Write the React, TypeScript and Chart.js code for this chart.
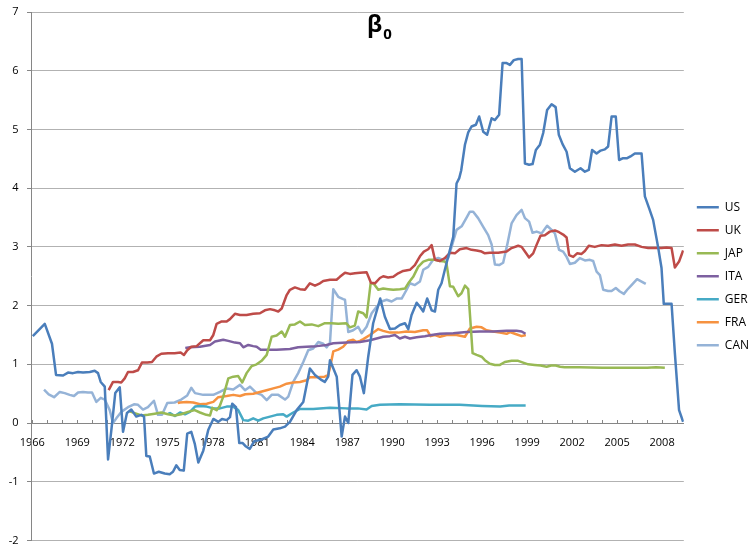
import React, { useEffect, useRef } from "react";
import { Chart, registerables } from "chart.js";

Chart.register(...registerables);

// [year, value] observations per country
const US: [number, number][] = [
  [1966.03,1.48],[1966.83,1.69],[1967.31,1.35],[1967.58,0.82],[1968.05,0.81],[1968.38,0.86],[1968.71,0.85],[1969.05,0.87],[1969.38,0.86],[1969.83,0.87],[1970.16,0.89],[1970.38,0.85],[1970.56,0.7],[1970.83,0.62],[1971.05,-0.62],[1971.27,-0.12],[1971.53,0.51],[1971.83,0.61],[1972.05,-0.15],[1972.31,0.17],[1972.6,0.23],[1972.93,0.11],[1973.27,0.14],[1973.45,0.11],[1973.6,-0.56],[1973.83,-0.57],[1974.11,-0.86],[1974.43,-0.83],[1974.83,-0.86],[1975.16,-0.87],[1975.38,-0.83],[1975.6,-0.72],[1975.83,-0.8],[1976.1,-0.81],[1976.33,-0.18],[1976.6,-0.15],[1976.83,-0.35],[1977.07,-0.67],[1977.4,-0.47],[1977.73,-0.12],[1978.07,0.07],[1978.4,0.02],[1978.65,0.07],[1978.96,0.05],[1979.18,0.1],[1979.33,0.33],[1979.58,0.27],[1979.8,-0.34],[1980.03,-0.34],[1980.25,-0.4],[1980.5,-0.44],[1980.8,-0.31],[1981.29,-0.28],[1981.73,-0.23],[1982.07,-0.11],[1982.5,-0.09],[1982.85,-0.06],[1983.18,0.02],[1983.63,0.22],[1984.07,0.36],[1984.51,0.93],[1984.85,0.82],[1985.3,0.73],[1985.5,0.7],[1985.73,0.79],[1985.85,1.07],[1986.3,0.79],[1986.63,-0.23],[1986.85,0.11],[1987.07,0.0],[1987.35,0.82],[1987.63,0.9],[1987.85,0.79],[1988.11,0.51],[1988.4,1.13],[1988.73,1.7],[1989.2,2.12],[1989.51,1.81],[1989.85,1.6],[1990.18,1.61],[1990.51,1.67],[1990.85,1.7],[1991.07,1.6],[1991.29,1.84],[1991.63,2.05],[1991.85,1.98],[1992.07,1.9],[1992.33,2.12],[1992.63,1.92],[1992.85,1.9],[1993.07,2.27],[1993.29,2.38],[1993.51,2.61],[1993.85,2.95],[1994.07,3.17],[1994.29,4.08],[1994.47,4.17],[1994.6,4.3],[1994.85,4.74],[1995.07,4.95],[1995.29,5.05],[1995.58,5.08],[1995.8,5.22],[1996.07,4.96],[1996.33,4.91],[1996.63,5.19],[1996.85,5.16],[1997.13,5.25],[1997.36,6.13],[1997.63,6.13],[1997.85,6.1],[1998.11,6.18],[1998.4,6.2],[1998.63,6.2],[1998.85,4.42],[1999.13,4.4],[1999.36,4.41],[1999.58,4.65],[1999.85,4.74],[2000.07,4.94],[2000.33,5.33],[2000.63,5.43],[2000.9,5.38],[2001.11,4.91],[2001.36,4.75],[2001.63,4.62],[2001.85,4.34],[2002.18,4.28],[2002.56,4.34],[2002.85,4.28],[2003.11,4.31],[2003.33,4.65],[2003.63,4.59],[2003.9,4.64],[2004.18,4.66],[2004.4,4.71],[2004.63,5.22],[2004.91,5.22],[2005.13,4.48],[2005.4,4.51],[2005.67,4.51],[2005.89,4.54],[2006.18,4.59],[2006.63,4.59],[2006.85,3.86],[2007.13,3.66],[2007.4,3.46],[2007.73,3.0],[2007.96,2.64],[2008.11,2.03],[2008.63,2.03],[2008.85,1.19],[2009.13,0.22],[2009.4,0.02]
];

const UK: [number, number][] = [
  [1971.09,0.56],[1971.38,0.7],[1971.71,0.7],[1971.93,0.69],[1972.16,0.76],[1972.38,0.87],[1972.71,0.87],[1973.05,0.9],[1973.31,1.03],[1973.67,1.03],[1973.98,1.04],[1974.27,1.13],[1974.6,1.18],[1975.05,1.19],[1975.49,1.19],[1975.89,1.2],[1976.11,1.16],[1976.33,1.24],[1976.6,1.3],[1976.96,1.31],[1977.4,1.41],[1977.85,1.41],[1978.07,1.5],[1978.29,1.69],[1978.63,1.73],[1978.96,1.73],[1979.18,1.77],[1979.51,1.86],[1979.85,1.84],[1980.29,1.84],[1980.73,1.86],[1981.18,1.87],[1981.51,1.92],[1981.85,1.94],[1982.18,1.92],[1982.4,1.9],[1982.63,1.95],[1982.96,2.18],[1983.18,2.27],[1983.51,2.31],[1983.85,2.28],[1984.18,2.27],[1984.51,2.38],[1984.85,2.34],[1985.18,2.38],[1985.4,2.42],[1985.85,2.44],[1986.29,2.44],[1986.51,2.49],[1986.85,2.56],[1987.18,2.54],[1987.51,2.55],[1987.85,2.56],[1988.29,2.57],[1988.58,2.39],[1988.85,2.38],[1989.18,2.47],[1989.4,2.5],[1989.73,2.48],[1990.07,2.49],[1990.4,2.55],[1990.73,2.59],[1991.18,2.61],[1991.51,2.69],[1991.85,2.84],[1992.11,2.92],[1992.4,2.96],[1992.63,3.03],[1992.85,2.78],[1993.18,2.76],[1993.51,2.81],[1993.85,2.9],[1994.18,2.89],[1994.51,2.96],[1994.96,2.98],[1995.29,2.95],[1995.63,2.94],[1995.96,2.92],[1996.18,2.89],[1996.51,2.9],[1997.07,2.9],[1997.63,2.92],[1997.96,2.98],[1998.4,3.02],[1998.63,3.0],[1998.85,2.92],[1999.13,2.82],[1999.4,2.89],[1999.62,3.03],[1999.89,3.19],[2000.18,3.2],[2000.51,3.26],[2000.85,3.28],[2001.13,3.25],[2001.4,3.21],[2001.63,3.16],[2001.8,2.86],[2002.07,2.83],[2002.33,2.89],[2002.63,2.88],[2002.85,2.93],[2003.11,3.02],[2003.51,3.0],[2003.96,3.03],[2004.4,3.02],[2004.85,3.04],[2005.29,3.02],[2005.73,3.04],[2006.18,3.04],[2006.63,3.0],[2007.07,2.98],[2007.51,2.98],[2007.96,2.98],[2008.29,2.99],[2008.63,2.98],[2008.85,2.65],[2009.13,2.75],[2009.4,2.94]
];

const JAP: [number, number][] = [
  [1972.49,0.2],[1972.83,0.17],[1973.27,0.13],[1973.71,0.14],[1974.16,0.16],[1974.6,0.18],[1975.05,0.15],[1975.49,0.13],[1975.93,0.15],[1976.38,0.19],[1976.83,0.22],[1977.18,0.18],[1977.6,0.14],[1977.85,0.13],[1978.0,0.26],[1978.29,0.22],[1978.5,0.29],[1978.73,0.45],[1979.07,0.76],[1979.4,0.79],[1979.73,0.8],[1980.0,0.69],[1980.29,0.85],[1980.63,0.97],[1980.96,1.0],[1981.29,1.06],[1981.63,1.16],[1981.96,1.47],[1982.29,1.49],[1982.63,1.56],[1982.85,1.47],[1983.18,1.67],[1983.51,1.68],[1983.85,1.73],[1984.18,1.67],[1984.63,1.68],[1985.07,1.65],[1985.51,1.7],[1985.96,1.7],[1986.4,1.69],[1986.94,1.7],[1987.18,1.63],[1987.51,1.66],[1987.73,1.9],[1988.07,1.87],[1988.29,1.8],[1988.56,2.38],[1988.78,2.37],[1989.07,2.27],[1989.4,2.29],[1989.73,2.28],[1990.07,2.27],[1990.51,2.28],[1990.85,2.29],[1991.07,2.38],[1991.4,2.49],[1991.73,2.66],[1992.07,2.75],[1992.4,2.78],[1992.85,2.78],[1993.18,2.76],[1993.51,2.75],[1993.62,2.72],[1993.85,2.33],[1994.07,2.32],[1994.4,2.16],[1994.62,2.21],[1994.85,2.34],[1995.07,2.28],[1995.36,1.19],[1995.63,1.16],[1995.96,1.13],[1996.18,1.07],[1996.51,1.01],[1996.85,0.99],[1997.18,0.99],[1997.51,1.04],[1997.96,1.06],[1998.4,1.06],[1998.73,1.03],[1999.07,1.0],[1999.5,0.99],[1999.9,0.98],[2000.3,0.96],[2000.6,0.98],[2000.9,0.98],[2001.2,0.96],[2001.5,0.95],[2002.5,0.95],[2004.0,0.94],[2006.0,0.94],[2007.0,0.94],[2007.6,0.95],[2008.18,0.94]
];

const ITA: [number, number][] = [
  [1976.2,1.28],[1976.51,1.29],[1977.18,1.3],[1977.85,1.33],[1978.18,1.39],[1978.73,1.42],[1979.07,1.4],[1979.51,1.37],[1979.85,1.36],[1980.07,1.29],[1980.4,1.33],[1980.73,1.31],[1980.96,1.3],[1981.23,1.25],[1981.62,1.25],[1982.29,1.25],[1983.18,1.26],[1983.73,1.29],[1984.29,1.3],[1984.96,1.31],[1985.62,1.33],[1986.07,1.36],[1986.96,1.37],[1987.85,1.38],[1988.51,1.41],[1988.96,1.44],[1989.4,1.47],[1989.85,1.48],[1990.18,1.5],[1990.51,1.44],[1990.85,1.47],[1991.18,1.44],[1991.63,1.46],[1992.18,1.48],[1992.63,1.5],[1993.18,1.52],[1994.07,1.53],[1994.96,1.55],[1995.85,1.56],[1996.73,1.56],[1997.63,1.57],[1998.29,1.57],[1998.63,1.56],[1998.89,1.52]
];

const GER: [number, number][] = [
  [1975.07,0.16],[1975.18,0.17],[1975.51,0.12],[1975.85,0.18],[1976.18,0.15],[1976.51,0.19],[1976.85,0.28],[1977.18,0.29],[1977.63,0.28],[1978.07,0.25],[1978.51,0.25],[1978.96,0.28],[1979.4,0.28],[1979.73,0.22],[1980.07,0.05],[1980.4,0.04],[1980.73,0.08],[1981.07,0.04],[1981.4,0.08],[1981.85,0.11],[1982.29,0.14],[1982.73,0.15],[1982.96,0.11],[1983.4,0.18],[1983.85,0.24],[1984.73,0.24],[1985.85,0.26],[1986.96,0.25],[1987.7,0.25],[1988.29,0.23],[1988.63,0.29],[1989.18,0.31],[1990.5,0.32],[1992.5,0.31],[1994.5,0.31],[1996.0,0.29],[1997.2,0.28],[1997.8,0.3],[1998.9,0.3]
];

const FRA: [number, number][] = [
  [1975.7,0.34],[1975.85,0.35],[1976.29,0.36],[1976.73,0.35],[1977.18,0.32],[1977.63,0.33],[1978.07,0.36],[1978.4,0.44],[1978.96,0.46],[1979.4,0.48],[1979.85,0.46],[1980.2,0.49],[1980.73,0.5],[1981.18,0.53],[1981.62,0.56],[1982.07,0.59],[1982.51,0.62],[1982.96,0.67],[1983.4,0.69],[1983.85,0.7],[1984.29,0.73],[1984.51,0.78],[1984.96,0.78],[1985.5,0.79],[1985.73,0.82],[1985.9,1.0],[1986.07,1.22],[1986.4,1.25],[1986.73,1.3],[1987.07,1.4],[1987.4,1.42],[1987.62,1.38],[1987.85,1.4],[1988.07,1.43],[1988.51,1.5],[1989.07,1.6],[1989.4,1.57],[1989.85,1.54],[1990.4,1.54],[1990.96,1.56],[1991.51,1.55],[1992.07,1.58],[1992.33,1.58],[1992.56,1.48],[1992.85,1.5],[1993.18,1.47],[1993.63,1.5],[1994.29,1.5],[1994.85,1.47],[1995.18,1.61],[1995.63,1.64],[1995.96,1.63],[1996.29,1.58],[1996.73,1.56],[1997.18,1.54],[1997.63,1.52],[1997.85,1.55],[1998.18,1.52],[1998.63,1.48],[1998.91,1.5]
];

const CAN: [number, number][] = [
  [1966.78,0.57],[1967.09,0.49],[1967.45,0.44],[1967.83,0.53],[1968.16,0.51],[1968.49,0.48],[1968.78,0.46],[1969.05,0.52],[1969.38,0.53],[1969.71,0.52],[1969.98,0.52],[1970.27,0.36],[1970.56,0.43],[1970.83,0.4],[1971.16,0.22],[1971.38,0.0],[1971.6,0.08],[1971.93,0.19],[1972.38,0.27],[1972.78,0.32],[1973.05,0.31],[1973.38,0.23],[1973.71,0.27],[1974.11,0.38],[1974.38,0.14],[1974.65,0.14],[1975.0,0.34],[1975.49,0.35],[1975.93,0.4],[1976.33,0.47],[1976.6,0.6],[1976.85,0.51],[1977.4,0.48],[1978.07,0.48],[1978.51,0.53],[1978.96,0.59],[1979.4,0.57],[1979.85,0.65],[1980.18,0.56],[1980.51,0.62],[1980.96,0.51],[1981.29,0.48],[1981.63,0.39],[1981.96,0.48],[1982.4,0.48],[1982.85,0.4],[1983.07,0.45],[1983.4,0.7],[1983.73,0.85],[1984.07,1.04],[1984.4,1.24],[1984.73,1.27],[1985.07,1.38],[1985.4,1.35],[1985.63,1.29],[1985.85,1.37],[1986.07,2.28],[1986.4,2.15],[1986.73,2.11],[1986.85,2.1],[1987.07,1.55],[1987.4,1.58],[1987.73,1.64],[1987.96,1.53],[1988.29,1.64],[1988.63,1.87],[1988.96,1.98],[1989.29,2.07],[1989.63,2.1],[1989.96,2.07],[1990.29,2.12],[1990.63,2.12],[1990.96,2.27],[1991.18,2.38],[1991.51,2.35],[1991.85,2.41],[1992.07,2.61],[1992.4,2.66],[1992.73,2.78],[1993.07,2.81],[1993.4,2.78],[1993.73,2.81],[1993.96,3.0],[1994.29,3.29],[1994.63,3.35],[1994.96,3.5],[1995.18,3.6],[1995.4,3.6],[1995.73,3.49],[1996.07,3.34],[1996.4,3.2],[1996.63,3.04],[1996.85,2.7],[1997.13,2.69],[1997.4,2.73],[1997.69,3.06],[1997.96,3.4],[1998.29,3.54],[1998.63,3.63],[1998.85,3.49],[1999.13,3.43],[1999.36,3.24],[1999.63,3.26],[1999.96,3.23],[2000.33,3.36],[2000.63,3.29],[2000.85,3.23],[2001.13,2.95],[2001.4,2.92],[2001.63,2.83],[2001.85,2.71],[2002.18,2.73],[2002.51,2.81],[2002.85,2.77],[2003.18,2.78],[2003.4,2.76],[2003.63,2.58],[2003.85,2.52],[2004.07,2.27],[2004.4,2.25],[2004.63,2.25],[2004.91,2.3],[2005.18,2.24],[2005.45,2.2],[2005.67,2.27],[2005.96,2.35],[2006.33,2.45],[2006.63,2.41],[2006.91,2.37]
];

const SERIES_NAMES = ["US", "UK", "JAP", "ITA", "GER", "FRA", "CAN"];
const SERIES_DATA = [US, UK, JAP, ITA, GER, FRA, CAN];
const SERIES_COLORS = ["#4A7EBB", "#BE4B48", "#98B954", "#7D60A0", "#46AAC5", "#F69240", "#95B3D7"];

const X_LABEL_YEARS = [1966, 1969, 1972, 1975, 1978, 1981, 1984, 1987, 1990, 1993, 1996, 1999, 2002, 2005, 2008];
const X_MIN = 1965.913;
const X_MAX = 2009.447;
const Y_MIN = -2;
const Y_MAX = 7;

const TITLE_MAIN = "β";
const TITLE_SUB = "0";

const AXIS_COLOR = "#868686";
const GRID_COLOR = "#b2b2b2";
const FONT = '"Open Sans", "DejaVu Sans", sans-serif';

const titlePlugin = {
  id: "betaTitle",
  afterDraw(chart: any) {
    const ctx = chart.ctx as CanvasRenderingContext2D;
    ctx.save();
    ctx.fillStyle = "#000";
    ctx.textAlign = "left";
    ctx.textBaseline = "alphabetic";
    ctx.font = `bold 23px ${FONT}`;
    const w1 = ctx.measureText(TITLE_MAIN).width;
    ctx.font = `bold 15px ${FONT}`;
    const w2 = ctx.measureText(TITLE_SUB).width;
    const x0 = chart.width / 2 + 4 - (w1 + w2 + 1) / 2;
    ctx.font = `bold 23px ${FONT}`;
    ctx.fillText(TITLE_MAIN, x0, 32);
    ctx.font = `bold 15px ${FONT}`;
    ctx.fillText(TITLE_SUB, x0 + w1 + 1, 39);
    ctx.restore();
  },
};

const legendShift = {
  id: "legendShift",
  afterLayout(chart: any) {
    if (chart.legend) {
      chart.legend.left += 2;
      chart.legend.right += 2;
    }
  },
};

export default function App() {
  const ref = useRef<HTMLCanvasElement | null>(null);

  useEffect(() => {
    if (!ref.current) return;
    const chart = new Chart(ref.current, {
      type: "line",
      data: {
        datasets: SERIES_NAMES.map((name, i) => ({
          label: name,
          data: SERIES_DATA[i].map(([x, y]) => ({ x, y })),
          borderColor: SERIES_COLORS[i],
          backgroundColor: SERIES_COLORS[i],
          borderWidth: 2.5,
          pointRadius: 0,
          tension: 0,
          borderJoinStyle: "round" as const,
          fill: false,
        })),
      },
      options: {
        responsive: false,
        animation: false,
        layout: { padding: { left: 8.7, right: -6, top: 12, bottom: 3.5 } },
        plugins: {
          title: { display: false },
          tooltip: { enabled: false },
          legend: {
            position: "right",
            labels: {
              usePointStyle: true,
              pointStyle: "line",
              pointStyleWidth: 22,
              padding: 11,
              color: "#000",
              font: { family: FONT, size: 12 },
            },
          },
        },
        scales: {
          x: {
            type: "linear",
            position: { y: 0 },
            min: X_MIN,
            max: X_MAX,
            ticks: {
              stepSize: 1,
              autoSkip: false,
              maxRotation: 0,
              includeBounds: false,
              padding: 17.4,
              color: "#000",
              font: { family: FONT, size: 11 },
              callback: (v: any) => (X_LABEL_YEARS.includes(Number(v)) ? String(v) : ""),
            },
            grid: { drawOnChartArea: false, tickLength: -4, tickColor: AXIS_COLOR, tickWidth: 1 },
            border: { color: AXIS_COLOR, width: 1 },
          },
          y: {
            type: "linear",
            min: Y_MIN,
            max: Y_MAX,
            ticks: {
              stepSize: 1,
              padding: 0,
              color: "#000",
              font: { family: FONT, size: 11, lineHeight: 0.5 },
            },
            grid: {
              color: GRID_COLOR,
              tickColor: AXIS_COLOR,
              tickLength: 12.5,
              tickBorderDash: [0, 8.5, 4, 0],
            },
            border: { color: AXIS_COLOR, width: 1 },
          },
        },
      },
      plugins: [titlePlugin, legendShift],
    } as any);
    return () => chart.destroy();
  }, []);

  return (
    <div style={{ position: "fixed", left: 0, top: 0, width: 751, height: 544, background: "#fff" }}>
      <canvas ref={ref} width={751} height={544} style={{ display: "block" }} />
    </div>
  );
}
